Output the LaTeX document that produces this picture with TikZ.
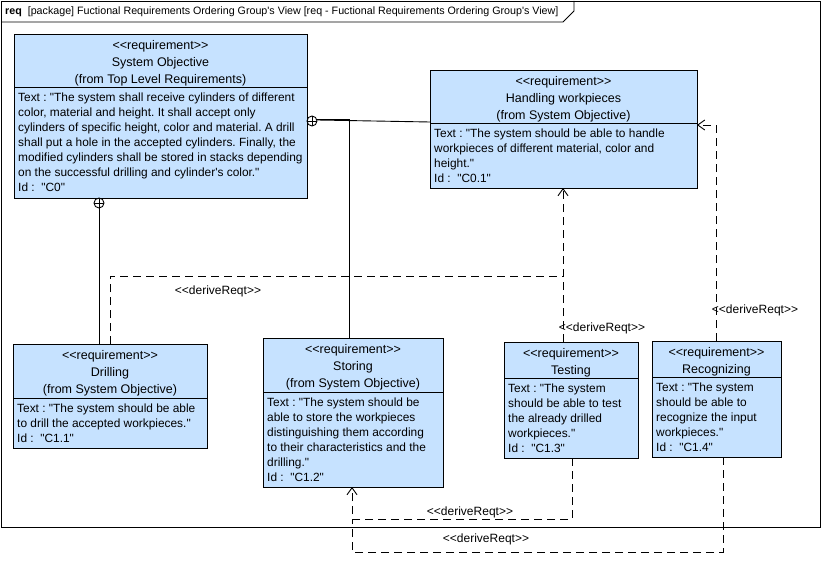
\documentclass[tikz,border=0pt]{standalone}
\usepackage{fontspec}
\newfontfamily\umlfont{Liberation Sans}
\usetikzlibrary{calc,arrows.meta}
\definecolor{reqblue}{RGB}{198,226,255}
\frenchspacing

\tikzset{
  reqbox/.style={draw=black, fill=reqblue, line width=0.9pt, inner sep=0pt, outer sep=0pt},
  hdr/.style={inner sep=0pt, align=center, font=\umlfont\fontsize{12.5}{17}\selectfont},
  bdy/.style={inner sep=0pt, align=left, font=\umlfont\fontsize{11.9}{15}\selectfont},
  lbl/.style={inner sep=0pt, font=\umlfont\fontsize{12}{14}\selectfont},
  owner/.style={line width=0.9pt},
  derive/.style={line width=0.9pt, dash pattern=on 8pt off 5pt},
  tip/.style={-{Straight Barb[length=7pt,width=10pt,line width=0.9pt]}}
}

% #1 name, #2/#3 top-left corner, #4 width, #5 height,
% #6 depth of the compartment line, #7 header, #8 body
\newcommand\reqnode[8]{%
  \node[reqbox, minimum width=#4pt, minimum height=#5pt, anchor=north west] (#1) at (#2,#3) {};
  \draw[line width=0.9pt] ([yshift=-#6pt]#1.north west) -- ([yshift=-#6pt]#1.north east);
  \node[hdr, anchor=north] (#1-h) at ([yshift=-3pt]#1.north) {\strut#7};
  \node[bdy, anchor=north west] (#1-b) at ([xshift=4pt,yshift=-#6pt-3.5pt]#1.north west) {\strut#8};
}

% containment end: circle with a cross
\newcommand\ownerend[2]{%
  \node[circle, draw, line width=0.9pt, minimum size=10pt, inner sep=0pt] (#1) at #2 {};
  \draw[line width=0.9pt] (#1.north) -- (#1.south) (#1.west) -- (#1.east);
}

\begin{document}
\begin{tikzpicture}[x=1pt, y=-1pt]
\useasboundingbox (0,0) rectangle (822,567);

% diagram frame and name tab
\draw[line width=0.9pt] (1,1) rectangle (820,527);
\draw[line width=0.9pt] (1,22) -- (563,22) -- (574,11) -- (574,1);
\node[anchor=west, inner sep=0pt, font=\umlfont\fontsize{10.7}{13}\selectfont] (title) at (5,12)
  {\textbf{req}\ \ [package] Fuctional Requirements Ordering Group's View [req - Fuctional Requirements Ordering Group's View]};

% requirements
\reqnode{so}{14}{34}{293}{164}{53}
  {<<requirement>>\\System Objective\\(from Top Level Requirements)}
  {Text : "The system shall receive cylinders of different\\
   color, material and height. It shall accept only\\
   cylinders of specific height, color and material. A drill\\
   shall put a hole in the accepted cylinders. Finally, the\\
   modified cylinders shall be stored in stacks depending\\
   on the successful drilling and cylinder's color."\\
   Id :\ \ "C0"}

\reqnode{hw}{430}{70}{267}{118}{53}
  {<<requirement>>\\Handling workpieces\\(from System Objective)}
  {Text : "The system should be able to handle\\
   workpieces of different material, color and\\
   height."\\
   Id :\ \ "C0.1"}

\reqnode{dr}{13}{344}{194}{104}{54}
  {<<requirement>>\\Drilling\\(from System Objective)}
  {Text : "The system should be able\\
   to drill the accepted workpieces."\\
   Id :\ \ "C1.1"}

\reqnode{st}{263}{338}{180}{149}{54}
  {<<requirement>>\\Storing\\(from System Objective)}
  {Text : "The system should be\\
   able to store the workpieces\\
   distinguishing them according\\
   to their characteristics and the\\
   drilling."\\
   Id :\ \ "C1.2"}

\reqnode{te}{504}{342}{134}{116}{36}
  {<<requirement>>\\Testing}
  {Text : "The system\\
   should be able to test\\
   the already drilled\\
   workpieces."\\
   Id :\ \ "C1.3"}

\reqnode{rc}{652}{341}{129}{116}{36}
  {<<requirement>>\\Recognizing}
  {Text : "The system\\
   should be able to\\
   recognize the input\\
   workpieces."\\
   Id :\ \ "C1.4"}

% containment: System Objective owns Drilling
\ownerend{own1}{(99,203)}
\draw[owner] (own1.south) -- ([xshift=86pt]dr.north west);

% containment: System Objective owns Storing and Handling workpieces
\ownerend{own2}{(312,121)}
\coordinate (bendst) at (349,119);
\draw[owner] (own2.east |- bendst) -- (bendst) -- ([xshift=86pt]st.north west);
\draw[owner] ([yshift=1pt]own2.east) -- ([yshift=-52pt]hw.north west);

% deriveReqt dependencies towards Handling workpieces
\coordinate (joinhw) at (563,276);
\draw[derive] ([xshift=97pt]dr.north west) |- (joinhw);
\draw[derive, tip] ([xshift=59pt]te.north west) -- ([xshift=133pt]hw.south west);
\draw[derive, tip] ([xshift=64pt]rc.north west) |- ([yshift=-55pt]hw.north east);

% deriveReqt dependencies towards Storing
\coordinate (joinst) at (352,519);
\coordinate (lowst) at (352,552);
\draw[derive, tip] ([xshift=68pt]te.south west) |- (joinst) -- ([xshift=89pt]st.south west);
\draw[derive] ([xshift=71pt]rc.south west) |- (lowst) -- (joinst);

% stereotype labels
\node[lbl] (l1) at (218,291) {<<deriveReqt>>};
\node[lbl] (l2) at (602,328) {<<deriveReqt>>};
\node[lbl] (l3) at (755,310) {<<deriveReqt>>};
\node[lbl] (l4) at (470,512) {<<deriveReqt>>};
\node[lbl] (l5) at (486,539) {<<deriveReqt>>};
\end{tikzpicture}
\end{document}
